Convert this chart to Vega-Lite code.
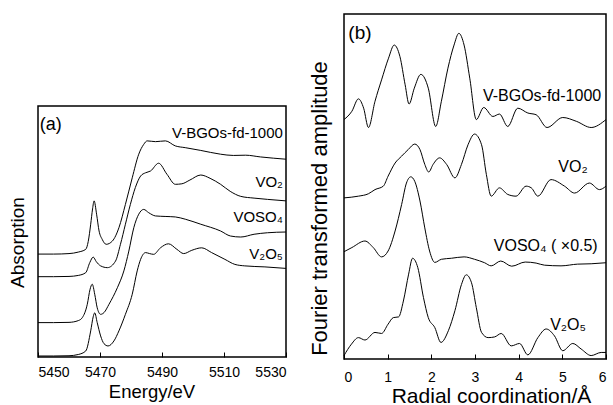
{
 "$schema": "https://vega.github.io/schema/vega-lite/v6.json",
 "padding": {"left": 7, "top": 13, "right": 2, "bottom": 2},
 "background": "white",
 "config": {
  "view": {"stroke": "black", "strokeWidth": 1.5},
  "font": "Liberation Sans",
  "axis": {"grid": false, "domain": false, "tickColor": "black", "tickWidth": 1, "labelColor": "black", "titleColor": "black", "labelFont": "Liberation Sans", "titleFont": "Liberation Sans", "titleFontWeight": "normal", "labelFontSize": 14},
  "text": {"font": "Liberation Sans", "color": "black"},
  "line": {"color": "black", "strokeWidth": 1}
 },
 "datasets": {
  "xanes": [
   {"s":"V-BGOs-fd-1000","E":5450,"a":4.10},{"s":"V-BGOs-fd-1000","E":5455,"a":4.10},{"s":"V-BGOs-fd-1000","E":5460,"a":4.12},{"s":"V-BGOs-fd-1000","E":5463,"a":4.18},{"s":"V-BGOs-fd-1000","E":5465.4,"a":4.29},{"s":"V-BGOs-fd-1000","E":5466.2,"a":4.6},{"s":"V-BGOs-fd-1000","E":5467,"a":5.29},{"s":"V-BGOs-fd-1000","E":5467.6,"a":5.9},{"s":"V-BGOs-fd-1000","E":5468.1,"a":6.22},{"s":"V-BGOs-fd-1000","E":5468.9,"a":5.69},{"s":"V-BGOs-fd-1000","E":5469.7,"a":5.02},{"s":"V-BGOs-fd-1000","E":5470.7,"a":4.69},{"s":"V-BGOs-fd-1000","E":5472,"a":4.49},{"s":"V-BGOs-fd-1000","E":5474,"a":4.62},{"s":"V-BGOs-fd-1000","E":5476.1,"a":5.15},{"s":"V-BGOs-fd-1000","E":5478.2,"a":6.08},{"s":"V-BGOs-fd-1000","E":5480.4,"a":7.14},{"s":"V-BGOs-fd-1000","E":5482.5,"a":8.08},{"s":"V-BGOs-fd-1000","E":5484.1,"a":8.47},{"s":"V-BGOs-fd-1000","E":5485.2,"a":8.61},{"s":"V-BGOs-fd-1000","E":5487.9,"a":8.58},{"s":"V-BGOs-fd-1000","E":5491.1,"a":8.61},{"s":"V-BGOs-fd-1000","E":5494.3,"a":8.41},{"s":"V-BGOs-fd-1000","E":5497.5,"a":8.34},{"s":"V-BGOs-fd-1000","E":5502.5,"a":8.23},{"s":"V-BGOs-fd-1000","E":5508.9,"a":8.08},{"s":"V-BGOs-fd-1000","E":5513,"a":8.03},{"s":"V-BGOs-fd-1000","E":5517,"a":8.04},{"s":"V-BGOs-fd-1000","E":5521.8,"a":7.97},{"s":"V-BGOs-fd-1000","E":5530,"a":7.88},
   {"s":"VO2","E":5450,"a":3.20},{"s":"VO2","E":5455,"a":3.20},{"s":"VO2","E":5460,"a":3.21},{"s":"VO2","E":5463,"a":3.25},{"s":"VO2","E":5465.4,"a":3.36},{"s":"VO2","E":5466.7,"a":3.76},{"s":"VO2","E":5467.8,"a":3.98},{"s":"VO2","E":5468.8,"a":3.80},{"s":"VO2","E":5470.2,"a":3.63},{"s":"VO2","E":5472.4,"a":3.56},{"s":"VO2","E":5475,"a":3.82},{"s":"VO2","E":5476.6,"a":4.49},{"s":"VO2","E":5478.2,"a":5.29},{"s":"VO2","E":5479.8,"a":6.08},{"s":"VO2","E":5481.4,"a":6.75},{"s":"VO2","E":5483.1,"a":7.21},{"s":"VO2","E":5484.7,"a":7.34},{"s":"VO2","E":5486.3,"a":7.41},{"s":"VO2","E":5488.9,"a":7.72},{"s":"VO2","E":5491.6,"a":7.28},{"s":"VO2","E":5494.3,"a":6.88},{"s":"VO2","E":5496.4,"a":6.90},{"s":"VO2","E":5499,"a":7.05},{"s":"VO2","E":5502.5,"a":7.25},{"s":"VO2","E":5505.5,"a":7.12},{"s":"VO2","E":5508.9,"a":6.88},{"s":"VO2","E":5512,"a":6.60},{"s":"VO2","E":5515.4,"a":6.40},{"s":"VO2","E":5519.7,"a":6.33},{"s":"VO2","E":5524,"a":6.28},{"s":"VO2","E":5530,"a":6.22},
   {"s":"VOSO4","E":5450,"a":1.37},{"s":"VOSO4","E":5455,"a":1.37},{"s":"VOSO4","E":5460,"a":1.38},{"s":"VOSO4","E":5463,"a":1.45},{"s":"VOSO4","E":5464.3,"a":1.57},{"s":"VOSO4","E":5465.9,"a":2.10},{"s":"VOSO4","E":5466.8,"a":2.70},{"s":"VOSO4","E":5467.5,"a":2.90},{"s":"VOSO4","E":5468.3,"a":2.50},{"s":"VOSO4","E":5469.1,"a":1.96},{"s":"VOSO4","E":5470.2,"a":1.70},{"s":"VOSO4","E":5471.3,"a":1.77},{"s":"VOSO4","E":5472.9,"a":2.10},{"s":"VOSO4","E":5475.6,"a":2.76},{"s":"VOSO4","E":5477.7,"a":3.43},{"s":"VOSO4","E":5479.3,"a":4.22},{"s":"VOSO4","E":5480.9,"a":5.15},{"s":"VOSO4","E":5482.5,"a":5.69},{"s":"VOSO4","E":5484.1,"a":5.88},{"s":"VOSO4","E":5485.7,"a":5.75},{"s":"VOSO4","E":5487.9,"a":5.62},{"s":"VOSO4","E":5491,"a":5.60},{"s":"VOSO4","E":5494.3,"a":5.58},{"s":"VOSO4","E":5497.5,"a":5.49},{"s":"VOSO4","E":5502.5,"a":5.29},{"s":"VOSO4","E":5508.9,"a":5.02},{"s":"VOSO4","E":5512.1,"a":4.82},{"s":"VOSO4","E":5515.4,"a":4.78},{"s":"VOSO4","E":5519.7,"a":4.89},{"s":"VOSO4","E":5524,"a":4.95},{"s":"VOSO4","E":5530,"a":4.98},
   {"s":"V2O5","E":5450,"a":0.04},{"s":"V2O5","E":5455,"a":0.04},{"s":"V2O5","E":5460,"a":0.05},{"s":"V2O5","E":5463,"a":0.10},{"s":"V2O5","E":5465.4,"a":0.24},{"s":"V2O5","E":5467,"a":1.04},{"s":"V2O5","E":5467.8,"a":1.60},{"s":"V2O5","E":5468.3,"a":1.76},{"s":"V2O5","E":5469.1,"a":1.37},{"s":"V2O5","E":5470.2,"a":0.84},{"s":"V2O5","E":5471.3,"a":0.53},{"s":"V2O5","E":5472.6,"a":0.44},{"s":"V2O5","E":5474.5,"a":0.64},{"s":"V2O5","E":5476.1,"a":1.04},{"s":"V2O5","E":5478.2,"a":1.70},{"s":"V2O5","E":5480.4,"a":2.50},{"s":"V2O5","E":5482,"a":3.43},{"s":"V2O5","E":5483.1,"a":3.89},{"s":"V2O5","E":5484.7,"a":4.16},{"s":"V2O5","E":5486,"a":4.12},{"s":"V2O5","E":5487.3,"a":4.09},{"s":"V2O5","E":5489.5,"a":4.35},{"s":"V2O5","E":5492.1,"a":4.51},{"s":"V2O5","E":5494.8,"a":4.29},{"s":"V2O5","E":5497,"a":4.12},{"s":"V2O5","E":5499.6,"a":4.25},{"s":"V2O5","E":5502.8,"a":4.35},{"s":"V2O5","E":5506,"a":4.16},{"s":"V2O5","E":5510.3,"a":3.89},{"s":"V2O5","E":5513.5,"a":3.69},{"s":"V2O5","E":5516.7,"a":3.63},{"s":"V2O5","E":5523.2,"a":3.59},{"s":"V2O5","E":5530,"a":3.53}
  ],
  "ft": [
   {"s":"V-BGOs-fd-1000","r":0,"f":6.94},{"s":"V-BGOs-fd-1000","r":0.18,"f":7.18},{"s":"V-BGOs-fd-1000","r":0.33,"f":7.54},{"s":"V-BGOs-fd-1000","r":0.45,"f":7.27},{"s":"V-BGOs-fd-1000","r":0.56,"f":6.71},{"s":"V-BGOs-fd-1000","r":0.71,"f":7.47},{"s":"V-BGOs-fd-1000","r":0.86,"f":8.09},{"s":"V-BGOs-fd-1000","r":1.02,"f":8.72},{"s":"V-BGOs-fd-1000","r":1.15,"f":9.10},{"s":"V-BGOs-fd-1000","r":1.28,"f":8.77},{"s":"V-BGOs-fd-1000","r":1.40,"f":7.95},{"s":"V-BGOs-fd-1000","r":1.49,"f":7.39},{"s":"V-BGOs-fd-1000","r":1.61,"f":7.85},{"s":"V-BGOs-fd-1000","r":1.76,"f":8.25},{"s":"V-BGOs-fd-1000","r":1.93,"f":7.85},{"s":"V-BGOs-fd-1000","r":2.10,"f":6.74},{"s":"V-BGOs-fd-1000","r":2.23,"f":7.47},{"s":"V-BGOs-fd-1000","r":2.38,"f":8.43},{"s":"V-BGOs-fd-1000","r":2.52,"f":9.10},{"s":"V-BGOs-fd-1000","r":2.63,"f":9.44},{"s":"V-BGOs-fd-1000","r":2.75,"f":9.10},{"s":"V-BGOs-fd-1000","r":2.88,"f":8.14},{"s":"V-BGOs-fd-1000","r":3.03,"f":6.94},{"s":"V-BGOs-fd-1000","r":3.2,"f":7.29},{"s":"V-BGOs-fd-1000","r":3.41,"f":7.03},{"s":"V-BGOs-fd-1000","r":3.56,"f":7.10},{"s":"V-BGOs-fd-1000","r":3.75,"f":6.74},{"s":"V-BGOs-fd-1000","r":3.98,"f":7.27},{"s":"V-BGOs-fd-1000","r":4.21,"f":7.13},{"s":"V-BGOs-fd-1000","r":4.4,"f":7.08},{"s":"V-BGOs-fd-1000","r":4.65,"f":6.71},{"s":"V-BGOs-fd-1000","r":5.01,"f":7.00},{"s":"V-BGOs-fd-1000","r":5.32,"f":6.89},{"s":"V-BGOs-fd-1000","r":5.66,"f":6.71},{"s":"V-BGOs-fd-1000","r":6.0,"f":6.94},
   {"s":"VO2","r":0,"f":4.67},{"s":"VO2","r":0.33,"f":4.72},{"s":"VO2","r":0.56,"f":4.79},{"s":"VO2","r":0.71,"f":4.91},{"s":"VO2","r":0.90,"f":5.01},{"s":"VO2","r":1.01,"f":5.30},{"s":"VO2","r":1.17,"f":5.68},{"s":"VO2","r":1.32,"f":5.88},{"s":"VO2","r":1.47,"f":6.07},{"s":"VO2","r":1.62,"f":6.23},{"s":"VO2","r":1.74,"f":6.07},{"s":"VO2","r":1.85,"f":5.64},{"s":"VO2","r":1.94,"f":5.42},{"s":"VO2","r":2.04,"f":5.64},{"s":"VO2","r":2.19,"f":5.83},{"s":"VO2","r":2.35,"f":5.64},{"s":"VO2","r":2.54,"f":5.25},{"s":"VO2","r":2.69,"f":5.64},{"s":"VO2","r":2.84,"f":6.21},{"s":"VO2","r":2.99,"f":6.52},{"s":"VO2","r":3.15,"f":6.21},{"s":"VO2","r":3.26,"f":5.35},{"s":"VO2","r":3.37,"f":4.72},{"s":"VO2","r":3.56,"f":4.96},{"s":"VO2","r":3.75,"f":4.77},{"s":"VO2","r":3.94,"f":4.72},{"s":"VO2","r":4.17,"f":5.01},{"s":"VO2","r":4.29,"f":4.96},{"s":"VO2","r":4.44,"f":4.72},{"s":"VO2","r":4.74,"f":5.20},{"s":"VO2","r":5.05,"f":5.01},{"s":"VO2","r":5.28,"f":4.81},{"s":"VO2","r":5.62,"f":5.10},{"s":"VO2","r":5.85,"f":4.91},{"s":"VO2","r":6.0,"f":5.01},
   {"s":"VOSO4","r":0,"f":3.11},{"s":"VOSO4","r":0.18,"f":3.23},{"s":"VOSO4","r":0.48,"f":3.42},{"s":"VOSO4","r":0.67,"f":3.23},{"s":"VOSO4","r":0.86,"f":2.96},{"s":"VOSO4","r":1.01,"f":3.13},{"s":"VOSO4","r":1.17,"f":3.71},{"s":"VOSO4","r":1.32,"f":4.48},{"s":"VOSO4","r":1.43,"f":5.10},{"s":"VOSO4","r":1.53,"f":5.28},{"s":"VOSO4","r":1.62,"f":5.15},{"s":"VOSO4","r":1.74,"f":4.58},{"s":"VOSO4","r":1.85,"f":3.80},{"s":"VOSO4","r":1.96,"f":3.13},{"s":"VOSO4","r":2.08,"f":2.80},{"s":"VOSO4","r":2.23,"f":2.89},{"s":"VOSO4","r":2.46,"f":2.92},{"s":"VOSO4","r":2.75,"f":2.96},{"s":"VOSO4","r":2.99,"f":2.89},{"s":"VOSO4","r":3.22,"f":2.79},{"s":"VOSO4","r":3.37,"f":2.70},{"s":"VOSO4","r":3.59,"f":2.84},{"s":"VOSO4","r":3.84,"f":2.69},{"s":"VOSO4","r":4.15,"f":2.81},{"s":"VOSO4","r":4.4,"f":2.78},{"s":"VOSO4","r":4.59,"f":2.72},{"s":"VOSO4","r":4.97,"f":2.70},{"s":"VOSO4","r":5.35,"f":2.75},{"s":"VOSO4","r":5.66,"f":2.76},{"s":"VOSO4","r":6.0,"f":2.79},
   {"s":"V2O5","r":0,"f":0.10},{"s":"V2O5","r":0.17,"f":0.43},{"s":"V2O5","r":0.33,"f":0.62},{"s":"V2O5","r":0.48,"f":0.55},{"s":"V2O5","r":0.71,"f":0.77},{"s":"V2O5","r":0.86,"f":0.74},{"s":"V2O5","r":1.01,"f":1.01},{"s":"V2O5","r":1.13,"f":1.20},{"s":"V2O5","r":1.25,"f":1.22},{"s":"V2O5","r":1.36,"f":1.68},{"s":"V2O5","r":1.48,"f":2.46},{"s":"V2O5","r":1.57,"f":2.92},{"s":"V2O5","r":1.69,"f":2.65},{"s":"V2O5","r":1.82,"f":1.78},{"s":"V2O5","r":1.93,"f":1.20},{"s":"V2O5","r":2.08,"f":0.91},{"s":"V2O5","r":2.22,"f":0.48},{"s":"V2O5","r":2.39,"f":0.82},{"s":"V2O5","r":2.54,"f":1.40},{"s":"V2O5","r":2.69,"f":2.16},{"s":"V2O5","r":2.80,"f":2.44},{"s":"V2O5","r":2.92,"f":2.21},{"s":"V2O5","r":3.03,"f":1.49},{"s":"V2O5","r":3.15,"f":0.77},{"s":"V2O5","r":3.30,"f":0.62},{"s":"V2O5","r":3.45,"f":0.64},{"s":"V2O5","r":3.60,"f":0.74},{"s":"V2O5","r":3.83,"f":0.38},{"s":"V2O5","r":4.02,"f":0.45},{"s":"V2O5","r":4.21,"f":0.12},{"s":"V2O5","r":4.44,"f":0.62},{"s":"V2O5","r":4.63,"f":0.87},{"s":"V2O5","r":4.82,"f":0.67},{"s":"V2O5","r":5.01,"f":0.24},{"s":"V2O5","r":5.24,"f":0.45},{"s":"V2O5","r":5.43,"f":0.29},{"s":"V2O5","r":5.66,"f":0.10},{"s":"V2O5","r":5.89,"f":0.19},{"s":"V2O5","r":6.0,"f":0.19}
  ],
  "labA": [
   {"t":"V-BGOs-fd-1000","E":5529,"a":8.94},{"t":"VO₂","E":5529,"a":6.97},{"t":"VOSO₄","E":5529,"a":5.58},{"t":"V₂O₅","E":5529,"a":4.10}
  ],
  "labB": [
   {"t":"V-BGOs-fd-1000","r":5.89,"f":7.62},{"t":"VO₂","r":5.58,"f":5.57},{"t":"VOSO₄ ( ×0.5)","r":5.81,"f":3.28},{"t":"V₂O₅","r":5.54,"f":0.99}
  ],
  "tagA": [{"t":"(a)","E":5450.6,"a":9.24}],
  "tagB": [{"t":"(b)","r":0.1,"f":9.46}]
 },
 "hconcat": [
  {
   "vconcat": [
    {"width": 248, "height": 92, "view": {"stroke": null}, "data": {"values": []}, "mark": "point", "encoding": {}},
    {
     "width": 248, "height": 251,
     "layer": [
      {"data": {"name": "xanes"}, "mark": {"type": "line", "interpolate": "monotone"},
       "encoding": {
        "x": {"field": "E", "type": "quantitative", "scale": {"domain": [5450, 5530], "nice": false, "zero": false},
              "axis": {"title": "Energy/eV", "values": [5450, 5470, 5490, 5510, 5530], "format": "d", "tickSize": -5, "labelPadding": 13, "titleFontSize": 18.5, "titlePadding": 3, "titleX": 113.5}},
        "y": {"field": "a", "type": "quantitative", "scale": {"domain": [0, 10], "nice": false, "zero": false},
              "axis": {"title": "Absorption", "labels": false, "ticks": false, "titleFontSize": 19, "titlePadding": 11, "titleY": 136}},
        "detail": {"field": "s"}
       }},
      {"data": {"name": "labA"}, "mark": {"type": "text", "align": "right", "baseline": "middle", "fontSize": 15},
       "encoding": {"x": {"field": "E", "type": "quantitative"}, "y": {"field": "a", "type": "quantitative"}, "text": {"field": "t"}}},
      {"data": {"name": "tagA"}, "mark": {"type": "text", "align": "left", "baseline": "middle", "fontSize": 18},
       "encoding": {"x": {"field": "E", "type": "quantitative"}, "y": {"field": "a", "type": "quantitative"}, "text": {"field": "t"}}}
     ]
    }
   ],
   "spacing": 0,
   "bounds": "flush"
  },
  {
   "width": 262, "height": 345,
   "layer": [
    {"data": {"name": "ft"}, "mark": {"type": "line", "interpolate": "monotone"},
     "encoding": {
      "x": {"field": "r", "type": "quantitative", "scale": {"domain": [0, 6], "nice": false},
            "axis": {"title": "Radial coordination/Å", "values": [0, 1, 2, 3, 4, 5, 6], "tickSize": -5, "labelPadding": 16, "titleFontSize": 21, "titlePadding": 1, "titleX": 147}},
      "y": {"field": "f", "type": "quantitative", "scale": {"domain": [0, 10], "nice": false},
            "axis": {"title": "Fourier transformed amplitude", "labels": false, "ticks": false, "titleFontSize": 22, "titlePadding": 13, "titleY": 194}},
      "detail": {"field": "s"}
     }},
    {"data": {"name": "labB"}, "mark": {"type": "text", "align": "right", "baseline": "middle", "fontSize": 16},
     "encoding": {"x": {"field": "r", "type": "quantitative"}, "y": {"field": "f", "type": "quantitative"}, "text": {"field": "t"}}},
    {"data": {"name": "tagB"}, "mark": {"type": "text", "align": "left", "baseline": "middle", "fontSize": 19},
     "encoding": {"x": {"field": "r", "type": "quantitative"}, "y": {"field": "f", "type": "quantitative"}, "text": {"field": "t"}}}
   ]
  }
 ],
 "spacing": 18
}
